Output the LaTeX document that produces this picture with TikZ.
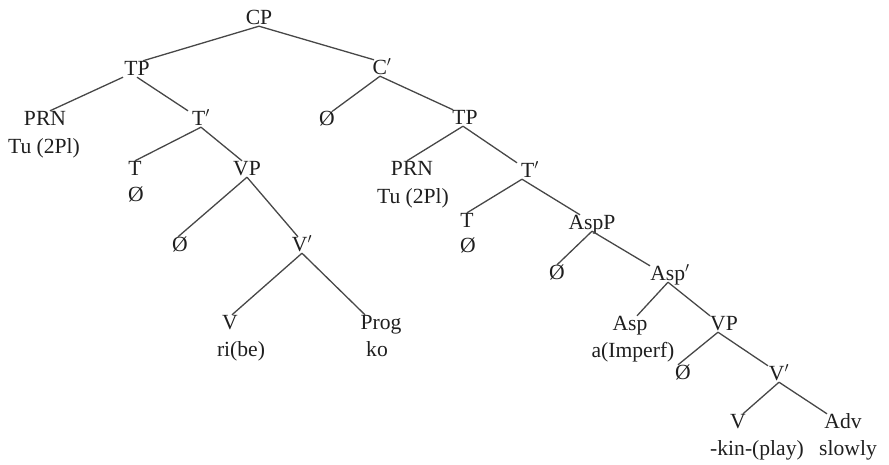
\documentclass[tikz,border=0pt]{standalone}
\usepackage{fontspec}
\setmainfont{Liberation Serif}
\begin{document}
\begin{tikzpicture}[x=1pt,y=-1pt,
  lab/.style={inner sep=0pt, anchor=base, text height=14pt, text depth=2pt,
    font=\fontsize{21.6}{25}\selectfont, text=black!88},
  br/.style={line width=1.3pt, draw=black!72}]
\useasboundingbox (0,0) rectangle (889,464);
% left half
\node[lab] (cp) at (259,24) {CP};
\node[lab] (tpa) at (137,75) {TP};
\node[lab] (cbar) at (382,74) {C$'$};
\node[lab] (prna) at (45,125) {PRN};
\node[lab] (prnaw) at (44,153) {Tu (2Pl)};
\node[lab] (tbara) at (201,125) {T$'$};
\node[lab] (ta) at (135,175) {T};
\node[lab] (taw) at (136,201) {Ø};
\node[lab] (vpa) at (247,175) {VP};
\node[lab] (nulla) at (180,251) {Ø};
\node[lab] (vbara) at (302,251) {V$'$};
\node[lab] (va) at (230,329) {V};
\node[lab] (vaw) at (241,356) {ri(be)};
\node[lab] (prog) at (381,329) {Prog};
\node[lab] (progw) at (377,356) {ko};
% right half
\node[lab] (nullc) at (327,125) {Ø};
\node[lab] (tpb) at (465,124) {TP};
\node[lab] (prnb) at (412,175) {PRN};
\node[lab] (prnbw) at (413,203) {Tu (2Pl)};
\node[lab] (tbarb) at (530,177) {T$'$};
\node[lab] (tb) at (467,227) {T};
\node[lab] (tbw) at (468,252) {Ø};
\node[lab] (aspp) at (592,229) {AspP};
\node[lab] (nullb) at (557,279) {Ø};
\node[lab] (aspbar) at (670,280) {Asp$'$};
\node[lab] (asp) at (630,330) {Asp};
\node[lab] (aspw) at (633,357) {a(Imperf)};
\node[lab] (vpb) at (724,330) {VP};
\node[lab] (nulld) at (683,379) {Ø};
\node[lab] (vbarb) at (779,380) {V$'$};
\node[lab] (vb) at (738,428) {V};
\node[lab] (vbw) at (757,455) {-kin-(play)};
\node[lab] (adv) at (843,428) {Adv};
\node[lab] (advw) at (848,455) {slowly};
% branches
\draw[br] (cp.south) -- ([xshift=6pt]tpa.north);
\draw[br] (cp.south) -- ([xshift=-8pt]cbar.north);
\draw[br] ([xshift=-14pt]tpa.south) -- ([xshift=5pt]prna.north);
\draw[br] (tpa.south) -- ([xshift=-13pt]tbara.north);
\draw[br] (tbara.south) -- (ta.north);
\draw[br] (tbara.south) -- ([xshift=-5pt]vpa.north);
\draw[br] (vpa.south) -- ([xshift=-2pt]nulla.north);
\draw[br] (vpa.south) -- ([xshift=-4pt]vbara.north);
\draw[br] (vbara.south) -- ([xshift=2pt]va.north);
\draw[br] (vbara.south) -- ([xshift=-16pt]prog.north);
\draw[br] ([xshift=-2pt]cbar.south) -- ([xshift=6pt]nullc.north);
\draw[br] ([xshift=-2pt]cbar.south) -- ([xshift=-12pt]tpb.north);
\draw[br] ([xshift=-2pt]tpb.south) -- ([xshift=-5pt]prnb.north);
\draw[br] ([xshift=-2pt]tpb.south) -- ([xshift=-13pt]tbarb.north);
\draw[br] ([xshift=-8pt]tbarb.south) -- (tb.north);
\draw[br] ([xshift=-8pt]tbarb.south) -- ([xshift=-12pt]aspp.north);
\draw[br] (aspp.south) -- (nullb.north);
\draw[br] (aspp.south) -- ([xshift=-20pt]aspbar.north);
\draw[br] ([xshift=-2pt]aspbar.south) -- ([xshift=7pt]asp.north);
\draw[br] ([xshift=-2pt]aspbar.south) -- ([xshift=-14pt]vpb.north);
\draw[br] ([xshift=-6pt]vpb.south) -- ([xshift=-5pt]nulld.north);
\draw[br] ([xshift=-6pt]vpb.south) -- ([xshift=-11pt]vbarb.north);
\draw[br] (vbarb.south) -- ([xshift=5pt]vb.north);
\draw[br] (vbarb.south) -- ([xshift=-16pt]adv.north);
\end{tikzpicture}
\end{document}
